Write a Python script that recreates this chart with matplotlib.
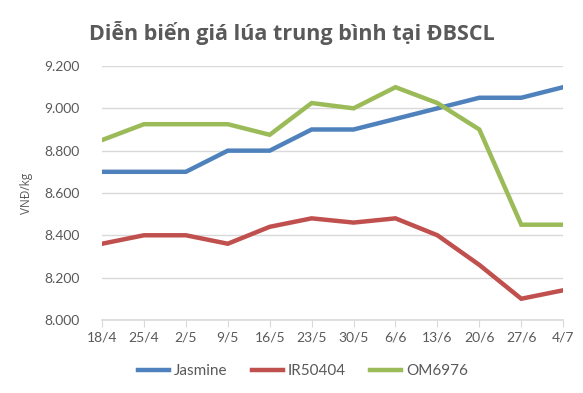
import matplotlib.pyplot as plt
from matplotlib.ticker import FuncFormatter

dates = ['18/4', '25/4', '2/5', '9/5', '16/5', '23/5', '30/5', '6/6', '13/6', '20/6', '27/6', '4/7']
jasmine = [8700, 8700, 8700, 8800, 8800, 8900, 8900, 8950, 9000, 9050, 9050, 9100]
ir50404 = [8360, 8400, 8400, 8360, 8440, 8480, 8460, 8480, 8400, 8260, 8100, 8140]
om6976 = [8850, 8925, 8925, 8925, 8875, 9025, 9000, 9100, 9025, 8900, 8450, 8450]

plt.rcParams['font.family'] = ['Open Sans', 'DejaVu Sans']
grey = '#595959'

fig = plt.figure(figsize=(5.83, 3.93), dpi=100)
ax = fig.add_axes([0.175, 0.186, 0.791, 0.646])

x = range(len(dates))
ax.plot(x, jasmine, color='#4F81BD', lw=3.2, label='Jasmine', solid_joinstyle='miter')
ax.plot(x, ir50404, color='#C0504D', lw=3.2, label='IR50404', solid_joinstyle='miter')
ax.plot(x, om6976, color='#9BBB59', lw=3.2, label='OM6976', solid_joinstyle='miter')

ax.set_xlim(0, len(dates) - 1)
ax.set_ylim(8000, 9200)
ax.set_yticks(range(8000, 9201, 200))
ax.yaxis.set_major_formatter(FuncFormatter(lambda v, p: f'{int(v):,}'.replace(',', '.')))
ax.set_xticks(list(x))
ax.set_xticklabels(dates)

ax.grid(axis='y', color='#D9D9D9', lw=1)
ax.set_axisbelow(True)
for s in ['top', 'right', 'left']:
    ax.spines[s].set_visible(False)
ax.spines['bottom'].set_color('#D9D9D9')
ax.spines['bottom'].set_linewidth(1.2)
ax.tick_params(axis='y', length=0, labelsize=10, labelcolor=grey, pad=16)
ax.tick_params(axis='x', length=5, color='#D9D9D9', labelsize=10, labelcolor=grey, pad=3)
for lab in ax.get_xticklabels() + ax.get_yticklabels():
    lab.set_family(['Lato', 'DejaVu Sans'])
ax.set_ylabel('VNĐ/kg', fontsize=8.5, color=grey, labelpad=8)

fig.text(0.5, 0.915, 'Diễn biến giá lúa trung bình tại ĐBSCL', ha='center', va='center',
         fontsize=15.5, fontweight='bold', color=grey)

fig.legend(loc='center', bbox_to_anchor=(0.52, 0.056), ncol=3, frameon=False,
           prop={'family': ['Lato', 'DejaVu Sans'], 'size': 11}, labelcolor=grey,
           handlelength=2.0, handletextpad=0.35, columnspacing=1.6)

fig.savefig('out.png', dpi=100)
